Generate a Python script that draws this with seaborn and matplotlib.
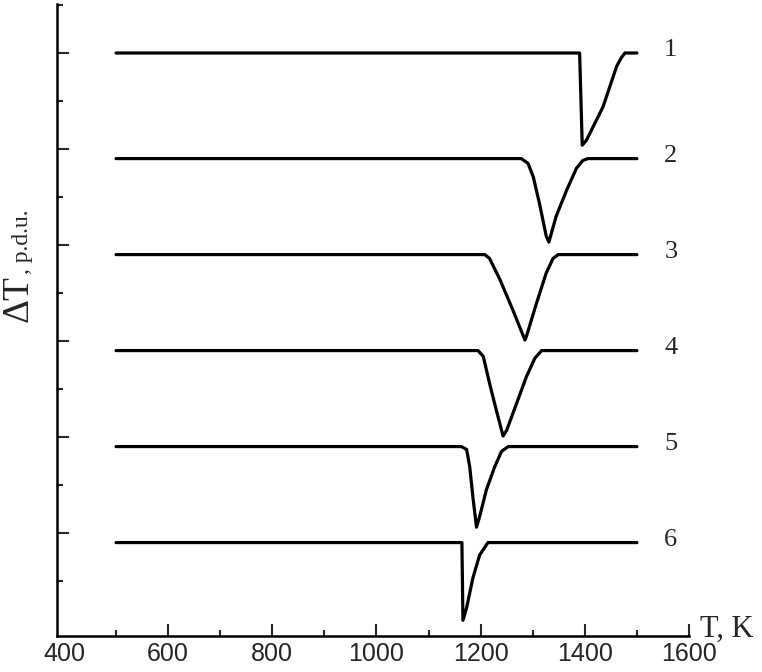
import numpy as np
import pandas as pd
import matplotlib.pyplot as plt
import seaborn as sns

# curve data (T in K, dT in plot units)
T1 = [500, 1390, 1395, 1403, 1435, 1461, 1470, 1477, 1500]
dT1 = [6.0, 6.0, 5.04, 5.09, 5.44, 5.86, 5.95, 6.0, 6.0]

T2 = [500, 1278, 1291, 1301, 1313, 1326, 1331, 1345, 1365, 1384, 1396, 1406, 1500]
dT2 = [4.9, 4.9, 4.85, 4.71, 4.43, 4.09, 4.03, 4.30, 4.57, 4.80, 4.88, 4.9, 4.9]

T3 = [500, 1208, 1217, 1237, 1262, 1285, 1288, 1307, 1326, 1339, 1349, 1500]
dT3 = [3.9, 3.9, 3.86, 3.64, 3.32, 3.01, 3.05, 3.39, 3.71, 3.86, 3.9, 3.9]

T4 = [500, 1195, 1205, 1217, 1230, 1243, 1250, 1269, 1288, 1304, 1317, 1500]
dT4 = [2.9, 2.9, 2.84, 2.56, 2.28, 2.01, 2.07, 2.35, 2.63, 2.82, 2.9, 2.9]

T5 = [500, 1163, 1173, 1179, 1185, 1192, 1198, 1211, 1227, 1240, 1253, 1500]
dT5 = [1.9, 1.9, 1.87, 1.69, 1.38, 1.06, 1.17, 1.45, 1.69, 1.85, 1.9, 1.9]

T6 = [500, 1164, 1166, 1173, 1185, 1198, 1214, 1500]
dT6 = [0.9, 0.9, 0.09, 0.22, 0.53, 0.77, 0.9, 0.9]

curve_names = ['1', '2', '3', '4', '5', '6']
x_ticks = [400, 600, 800, 1000, 1200, 1400, 1600]

curves = [(T1, dT1), (T2, dT2), (T3, dT3), (T4, dT4), (T5, dT5), (T6, dT6)]

sns.set_style('ticks')
plt.rcParams['font.family'] = ['Liberation Serif', 'DejaVu Serif']

fig = plt.figure(figsize=(7.62, 6.72), dpi=100)
ax = fig.add_axes([0.0748, 0.0536, 0.8294, 0.9404])

for name, (t, d) in zip(curve_names, curves):
    df = pd.DataFrame({'T': t, 'dT': d})
    sns.lineplot(data=df, x='T', y='dT', ax=ax, color='black', lw=2.3,
                 sort=False, estimator=None, solid_joinstyle='round')
    # curve number to the right of the line
    ax.text(t[-1] + 65, d[-1] + 0.03, name, fontsize=19, ha='center', va='center')

ax.set_xlim(386.6, 1600)
ax.set_ylim(-0.073, 6.51)

ax.set_xticks(x_ticks)
ax.set_xticks(np.arange(500, 1600, 200), minor=True)
ax.set_yticks([1, 2, 3, 4, 5, 6])
ax.set_yticks(np.arange(0.5, 6.6, 1.0), minor=True)
ax.set_yticklabels([])
ax.set_xticklabels([str(v) for v in x_ticks], family='Liberation Sans', fontsize=18)

ax.tick_params(which='major', direction='in', length=8.6, width=1.5, pad=4)
ax.tick_params(which='minor', direction='in', length=4.3, width=1.5)
ax.xaxis.get_major_ticks()[0].tick1line.set_visible(False)
ax.set_xlabel('')
ax.set_ylabel('')

sns.despine(ax=ax)
for s in ['left', 'bottom']:
    ax.spines[s].set_linewidth(1.8)
    ax.spines[s].set_color('black')

# axis titles
fig.text(700 / 762, 1 - 637 / 672, 'T, K', fontsize=22, ha='left', va='baseline')
fig.text(28 / 762, 1 - 322 / 672, '\u0394T', fontsize=27, rotation=90,
         rotation_mode='anchor', ha='left', va='baseline')
fig.text(28 / 762, 1 - 274 / 672, ', p.d.u.', fontsize=17, rotation=90,
         rotation_mode='anchor', ha='left', va='baseline')

fig.savefig('out.png', dpi=100)
